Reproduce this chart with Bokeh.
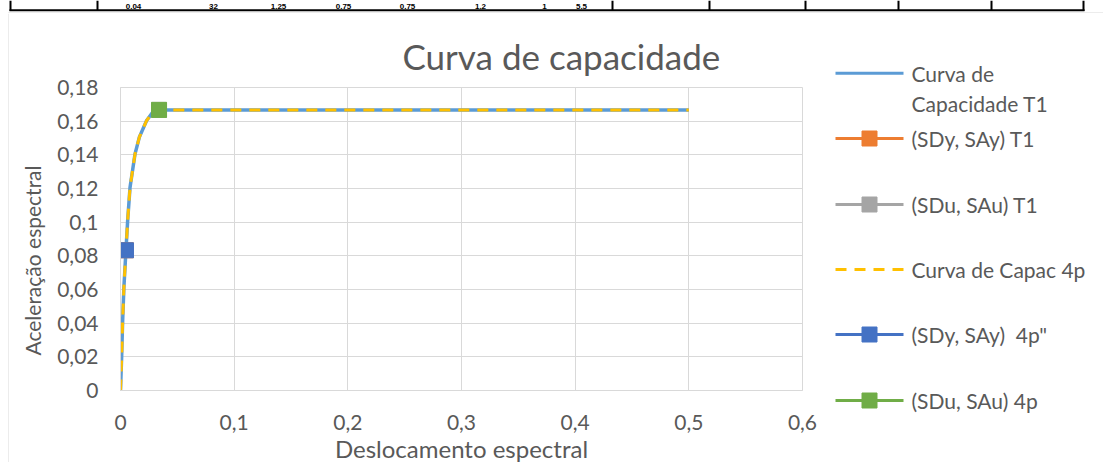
from bokeh.plotting import figure
from bokeh.models import Range1d, FixedTicker, Title
from bokeh.layouts import column, row
from bokeh.embed import file_html
from bokeh.resources import INLINE
from bokeh.core.properties import value

# Capacity curve: spectral displacement (SD) vs spectral acceleration (SA)
sd_curve = [0, 0.001, 0.0019, 0.003, 0.0048, 0.0063, 0.0084, 0.0128, 0.0166, 0.023, 0.0283, 0.0339, 0.5]
sa_curve = [0, 0.0198, 0.0416, 0.0614, 0.0833, 0.101, 0.1208, 0.1406, 0.1505, 0.1604, 0.1653, 0.1667, 0.1667]

# Yield and ultimate points
sdy_t1, say_t1 = [0.0048], [0.0833]
sdu_t1, sau_t1 = [0.0339], [0.1667]
sdy_4p, say_4p = [0.0048], [0.0833]
sdu_4p, sau_4p = [0.0339], [0.1667]

x_ticks = [0, 0.1, 0.2, 0.3, 0.4, 0.5, 0.6]
x_tick_labels = ["0", "0,1", "0,2", "0,3", "0,4", "0,5", "0,6"]
y_ticks = [0, 0.02, 0.04, 0.06, 0.08, 0.1, 0.12, 0.14, 0.16, 0.18]
y_tick_labels = ["0", "0,02", "0,04", "0,06", "0,08", "0,1", "0,12", "0,14", "0,16", "0,18"]

legend_labels = ["Curva de\nCapacidade T1", "(SDy, SAy) T1", "(SDu, SAu) T1",
                 "Curva de Capac 4p", "(SDy, SAy)\u00a0 4p\"", "(SDu, SAu) 4p"]

# Row of the parameter table sitting just above the chart
table_values = ["0.04", "32", "1.25", "0.75", "0.75", "1.2", "1", "5.5"]

FONT = "Lato"
TXT = "#595959"
GRID = "#d9d9d9"

BLUE_LINE = "#5B9BD5"
ORANGE = "#ED7D31"
GREY = "#A5A5A5"
YELLOW = "#FFC000"
BLUE = "#4472C4"
GREEN = "#70AD47"


def bare(fig):
    fig.axis.visible = False
    fig.grid.visible = False
    fig.outline_line_color = None
    return fig


# ---- table strip ----
t = bare(figure(width=1103, height=13, x_range=Range1d(0, 1103), y_range=Range1d(13, 0),
                output_backend="svg", toolbar_location=None, min_border=0, frame_align=False))
col_edges = [10, 97, 612, 709, 805, 898, 991, 1083]
t.segment(x0=col_edges, y0=[0] * len(col_edges), x1=col_edges, y1=[10.5] * len(col_edges),
          line_color="black", line_width=2)
t.segment(x0=[9], y0=[9.75], x1=[1084], y1=[9.75], line_color="black", line_width=2)
t.segment(x0=[8], y0=[12.5], x1=[1103], y1=[12.5], line_color=GRID, line_width=1)
t.segment(x0=[8.5], y0=[12], x1=[8.5], y1=[13], line_color=GRID, line_width=1)
text_x = [133, 213, 278, 343, 407, 480, 544, 581]
t.text(x=text_x, y=[8.5] * len(text_x), text=table_values, text_align="center",
       text_baseline="bottom", text_font=value("Liberation Sans"),
       text_font_size="8px", text_font_style="bold", text_color="black")

# ---- chart area left edge ----
s = bare(figure(width=9, height=449, x_range=Range1d(0, 9), y_range=Range1d(0, 449),
                output_backend="svg", toolbar_location=None, min_border=0, frame_align=False))
s.segment(x0=[8.5], y0=[0], x1=[8.5], y1=[449], line_color=GRID, line_width=1)

# ---- main chart ----
p = figure(frame_width=682, frame_height=303,
           x_range=Range1d(0, 0.6), y_range=Range1d(0, 0.18),
           output_backend="svg", toolbar_location=None, frame_align=False,
           min_border_left=111, min_border_right=20, min_border_top=74, min_border_bottom=72)

p.title = Title(text="Curva de capacidade", align="left", offset=282,
                text_font=FONT, text_font_size="35px", text_font_style="normal",
                text_color=TXT, standoff=22)

p.outline_line_color = GRID
p.xaxis.ticker = FixedTicker(ticks=x_ticks)
p.yaxis.ticker = FixedTicker(ticks=y_ticks)
p.xgrid.ticker = FixedTicker(ticks=x_ticks)
p.ygrid.ticker = FixedTicker(ticks=y_ticks)
p.xaxis.major_label_overrides = dict(zip(x_ticks, x_tick_labels))
p.yaxis.major_label_overrides = dict(zip(y_ticks, y_tick_labels))
p.grid.grid_line_color = GRID
p.grid.grid_line_width = 1

for ax in (p.xaxis, p.yaxis):
    ax.axis_line_color = GRID
    ax.major_tick_line_color = None
    ax.minor_tick_line_color = None
    ax.major_tick_out = 0
    ax.major_tick_in = 0
    ax.major_label_text_font = FONT
    ax.major_label_text_font_size = "21px"
    ax.major_label_text_color = TXT
    ax.axis_label_text_font = FONT
    ax.axis_label_text_font_style = "normal"
    ax.axis_label_text_color = TXT

p.xaxis.axis_label = "Deslocamento espectral"
# trailing no-break spaces nudge the rotated title down along the axis
p.yaxis.axis_label = "Aceleração espectral" + "\u00a0" * 8
p.xaxis.axis_label_text_font_size = "24px"
p.yaxis.axis_label_text_font_size = "21px"
p.xaxis.major_label_standoff = 24
p.yaxis.major_label_standoff = 22
p.xaxis.axis_label_standoff = 1
p.yaxis.axis_label_standoff = 9

p.line(sd_curve, sa_curve, line_color=BLUE_LINE, line_width=3.5)
p.scatter(sdy_t1, say_t1, marker="square", size=15, fill_color=ORANGE, line_color=ORANGE)
p.scatter(sdu_t1, sau_t1, marker="square", size=15, fill_color=GREY, line_color=GREY)
p.line(sd_curve, sa_curve, line_color=YELLOW, line_width=3, line_dash="11 8")
p.scatter(sdy_4p, say_4p, marker="square", size=15, fill_color=BLUE, line_color=BLUE)
p.scatter(sdu_4p, sau_4p, marker="square", size=15, fill_color=GREEN, line_color=GREEN)

# ---- legend panel, laid out in pixel coordinates (y grows downward) ----
lg = bare(figure(width=281, height=449, x_range=Range1d(0, 281), y_range=Range1d(449, 0),
                 output_backend="svg", toolbar_location=None, min_border=0, frame_align=False))
key_y = [59.7, 125, 191, 256, 321, 387]
key_colors = [BLUE_LINE, ORANGE, GREY, YELLOW, BLUE, GREEN]
key_dash = ["solid", "solid", "solid", "11 8", "solid", "solid"]
key_has_marker = [False, True, True, False, True, True]
for ky, kc, kd in zip(key_y, key_colors, key_dash):
    lg.line(x=[13, 81], y=[ky, ky], line_color=kc, line_width=3, line_dash=kd)
mk = [i for i, m in enumerate(key_has_marker) if m]
lg.scatter(x=[47] * len(mk), y=[key_y[i] for i in mk], marker="square", size=15,
           fill_color=[key_colors[i] for i in mk], line_color=[key_colors[i] for i in mk])
label_y = [key_y[0] + 15] + key_y[1:]
lg.text(x=[89] * len(legend_labels), y=label_y, text=legend_labels,
        text_align="left", text_baseline="middle", text_line_height=1.19,
        text_font=value(FONT), text_font_size="21px", text_color=TXT)

layout = column(t, row(s, p, lg, spacing=0), spacing=0)
open("out.html", "w").write(file_html(layout, INLINE))
